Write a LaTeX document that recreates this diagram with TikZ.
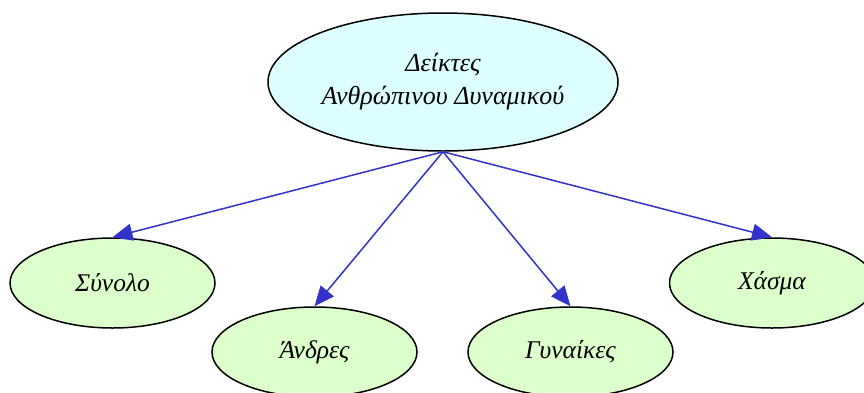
\documentclass[tikz,border=0pt]{standalone}
\usepackage{fontspec}
\setmainfont{Liberation Serif}
\usetikzlibrary{shapes.geometric,arrows.meta}
\definecolor{topfill}{RGB}{221,255,255}
\definecolor{leaffill}{RGB}{221,255,204}
\definecolor{edgeblue}{RGB}{51,51,204}
\begin{document}
\begin{tikzpicture}[x=1pt,y=-1pt,
  topnode/.style={ellipse,draw=black,line width=1.5pt,fill=topfill,minimum width=350pt,minimum height=138pt,inner sep=0pt,align=center,font=\fontsize{26}{33}\selectfont\itshape},
  leaf/.style={ellipse,draw=black,line width=1.5pt,fill=leaffill,minimum width=205pt,minimum height=90pt,inner sep=0pt,font=\fontsize{25.5}{33}\selectfont\itshape},
  link/.style={draw=edgeblue,line width=1.5pt,-{Triangle[length=20pt,width=17pt]}}]
\useasboundingbox (0,0) rectangle (864,392);
\node[topnode] (top) at (443,82) {Δείκτες\\Ανθρώπινου Δυναμικού};
\node[leaf] (synolo) at (112.5,283) {Σύνολο};
\node[leaf] (andres) at (314.5,352) {Άνδρες};
\node[leaf] (gynaikes) at (570.5,352) {Γυναίκες};
\node[leaf] (chasma) at (772,283) {Χάσμα};
\draw[link] (top.south) -- (synolo.north);
\draw[link] (top.south) -- (andres.north);
\draw[link] (top.south) -- (gynaikes.north);
\draw[link] (top.south) -- (chasma.north);
\end{tikzpicture}
\end{document}
